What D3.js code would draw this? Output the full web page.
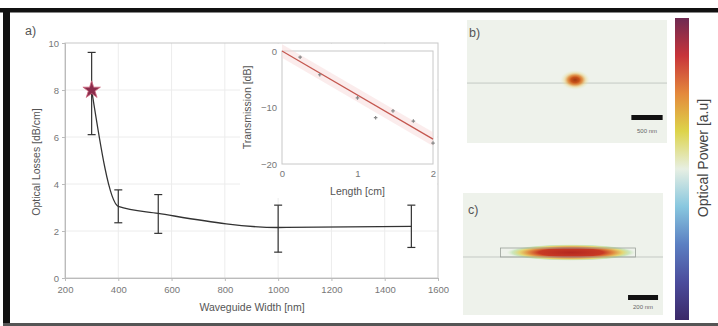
<!DOCTYPE html>
<html>
<head>
<meta charset="utf-8">
<script src="https://cdn.jsdelivr.net/npm/d3@7"></script>
<style>
  html, body { margin: 0; padding: 0; background: #fff; }
  svg { display: block; font-family: "Liberation Sans", Arial, sans-serif; }
</style>
</head>
<body>
<div id="chart"></div>
<script>
// ─── Data ────────────────────────────────────────────────────
const widths   = [300, 400, 550, 1000, 1500];          // nm
const losses   = [8.0, 3.05, 2.75, 2.15, 2.2];         // dB/cm
const errLow   = [6.1, 2.35, 1.9, 1.1, 1.3];
const errHigh  = [9.6, 3.75, 3.55, 3.1, 3.1];
const xTicks   = [200, 400, 600, 800, 1000, 1200, 1400, 1600];
const yTicks   = [0, 2, 4, 6, 8, 10];

const insetLen   = [0.24, 0.5, 1.0, 1.24, 1.47, 1.74, 2.0];   // cm
const insetTrans = [-1.1, -4.2, -8.3, -11.8, -10.6, -12.4, -16.3]; // dB
const fitLen     = [0, 2];
const fitTrans   = [0, -15.6];
const insetXTicks = [0, 1, 2];
const insetYTicks = [0, -10, -20];

// mode profiles (nm, panel coords): [cx, cy, rx, ry]
const modeB = [0, 50, 240, 160];
const modeC = [20, 30, 430, 55];
const wgC   = [-450, 450, 0, 60];      // x0, x1, y0, y1
const colorStops = ["#3b2868", "#4b4c9c", "#5b7fc2", "#88c7df", "#e7efe3",
                    "#ddd44a", "#e4893c", "#c8343a", "#6e2a52"];

// ─── SVG ─────────────────────────────────────────────────────
const W = 718, H = 326;
const svg = d3.select("#chart").append("svg").attr("width", W).attr("height", H);
const defs = svg.append("defs");

// frame
svg.append("rect").attr("x", 0).attr("y", 8).attr("width", W).attr("height", 4.5).attr("fill", "#111");
svg.append("rect").attr("x", 3).attr("y", 8).attr("width", 7).attr("height", H - 8).attr("fill", "#111");
svg.append("rect").attr("x", 3).attr("y", 323).attr("width", W - 3).attr("height", 3).attr("fill", "#555");

const txt = "#555";

// ─── Main chart ──────────────────────────────────────────────
const x = d3.scaleLinear().domain([200, 1600]).range([65, 438]);
const y = d3.scaleLinear().domain([0, 10]).range([278, 43]);
const g = svg.append("g");

// grid
g.selectAll("line.vg").data(xTicks.slice(1, -1)).join("line")
  .attr("x1", d => x(d)).attr("x2", d => x(d)).attr("y1", y(0)).attr("y2", y(10))
  .attr("stroke", "#ececec").attr("stroke-width", 1);
g.selectAll("line.hg").data(yTicks.slice(1, -1)).join("line")
  .attr("x1", x(200)).attr("x2", x(1600)).attr("y1", d => y(d)).attr("y2", d => y(d))
  .attr("stroke", "#ececec").attr("stroke-width", 1);
g.append("rect").attr("x", x(200)).attr("y", y(10))
  .attr("width", x(1600) - x(200)).attr("height", y(0) - y(10))
  .attr("fill", "none").attr("stroke", "#c8c8c8");

// axes
const xAxis = g.append("g").attr("transform", `translate(0,${y(0)})`)
  .call(d3.axisBottom(x).tickValues(xTicks).tickFormat(d3.format("d")).tickSize(3).tickPadding(5));
const yAxis = g.append("g").attr("transform", `translate(${x(200)},0)`)
  .call(d3.axisLeft(y).tickValues(yTicks).tickSize(3).tickPadding(3));
[xAxis, yAxis].forEach(a => {
  a.select(".domain").attr("stroke", "#bbb");
  a.selectAll(".tick line").attr("stroke", "#bbb");
  a.selectAll(".tick text").attr("fill", "#777").style("font-size", "9.5px")
    .style("font-family", "Liberation Sans, Arial, sans-serif");
});

g.append("text").attr("x", 252).attr("y", 311).attr("text-anchor", "middle")
  .attr("fill", txt).style("font-size", "10.5px").text("Waveguide Width [nm]");
g.append("text").attr("transform", `translate(40,162) rotate(-90)`).attr("text-anchor", "middle")
  .attr("fill", txt).style("font-size", "10.5px").text("Optical Losses [dB/cm]");
g.append("text").attr("x", 25).attr("y", 35).attr("fill", txt)
  .style("font-size", "12.5px").text("a)");

// inset background
g.append("rect").attr("x", 240).attr("y", 44).attr("width", 197).attr("height", 154).attr("fill", "#fff");

// line + error bars
const pts = widths.map((w, i) => ({ w, v: losses[i], lo: errLow[i], hi: errHigh[i] }));
g.append("path").datum(pts)
  .attr("d", d3.line().x(d => x(d.w)).y(d => y(d.v)).curve(d3.curveMonotoneX))
  .attr("fill", "none").attr("stroke", "#333").attr("stroke-width", 1.3);
const eb = g.selectAll("g.eb").data(pts).join("g").attr("stroke", "#333").attr("stroke-width", 1.2);
eb.append("line").attr("x1", d => x(d.w)).attr("x2", d => x(d.w))
  .attr("y1", d => y(d.lo)).attr("y2", d => y(d.hi));
eb.append("line").attr("x1", d => x(d.w) - 4).attr("x2", d => x(d.w) + 4)
  .attr("y1", d => y(d.lo)).attr("y2", d => y(d.lo));
eb.append("line").attr("x1", d => x(d.w) - 4).attr("x2", d => x(d.w) + 4)
  .attr("y1", d => y(d.hi)).attr("y2", d => y(d.hi));
g.append("path").attr("d", d3.symbol(d3.symbolStar, 95)())
  .attr("transform", `translate(${x(widths[0])},${y(losses[0])})`)
  .attr("fill", "#8a2c4c").attr("stroke", "#d06a80").attr("stroke-width", 0.8);

// ─── Inset ───────────────────────────────────────────────────
const ix = d3.scaleLinear().domain([0, 2]).range([282, 433]);
const iy = d3.scaleLinear().domain([-20, 0]).range([164, 51]);
const ig = svg.append("g");
ig.append("rect").attr("x", ix(0)).attr("y", iy(0)).attr("width", ix(2) - ix(0))
  .attr("height", iy(-20) - iy(0)).attr("fill", "#fff").attr("stroke", "#c8c8c8");
const fit = fitLen.map((l, i) => ({ l, t: fitTrans[i] }));
ig.append("path").datum(fit)
  .attr("d", d3.area().x(d => ix(d.l)).y0(d => iy(d.t - 1.2)).y1(d => iy(d.t + 1.2)))
  .attr("fill", "#f7d9d9").attr("opacity", 0.5);
ig.append("path").datum(fit)
  .attr("d", d3.line().x(d => ix(d.l)).y(d => iy(d.t)))
  .attr("stroke", "#c4574f").attr("stroke-width", 1.2).attr("fill", "none");
ig.selectAll("path.pt").data(insetLen.map((l, i) => ({ l, t: insetTrans[i] }))).join("path")
  .attr("d", d3.symbol(d3.symbolCross, 7)())
  .attr("transform", d => `translate(${ix(d.l)},${iy(d.t)})`)
  .attr("fill", "#888");
const iX = ig.append("g").attr("transform", `translate(0,${iy(-20)})`)
  .call(d3.axisBottom(ix).tickValues(insetXTicks).tickFormat(d3.format("d")).tickSize(0).tickPadding(6));
const iY = ig.append("g").attr("transform", `translate(${ix(0)},0)`)
  .call(d3.axisLeft(iy).tickValues(insetYTicks).tickSize(0).tickPadding(5));
[iX, iY].forEach(a => {
  a.select(".domain").remove();
  a.selectAll(".tick text").attr("fill", "#777").style("font-size", "9.5px")
    .style("font-family", "Liberation Sans, Arial, sans-serif");
});
ig.append("text").attr("x", ix(1)).attr("y", 195).attr("text-anchor", "middle")
  .attr("fill", txt).style("font-size", "10.5px").text("Length [cm]");
ig.append("text").attr("transform", `translate(251,${(iy(0) + iy(-20)) / 2}) rotate(-90)`)
  .attr("text-anchor", "middle").attr("fill", txt).style("font-size", "10.5px").text("Transmission [dB]");

// ─── Mode panels ─────────────────────────────────────────────
function modeGrad(id, stops) {
  const gr = defs.append("radialGradient").attr("id", id);
  stops.forEach(s => gr.append("stop").attr("offset", s[0]).attr("stop-color", s[1]).attr("stop-opacity", s[2]));
}
modeGrad("gB", [[0, "#a33a10", 1], [0.28, "#c9531a", 1], [0.5, "#e08a35", 0.85],
                [0.72, "#ead488", 0.5], [1, "#e2efd0", 0]]);
modeGrad("gC", [[0, "#b4281f", 1], [0.5, "#c83a25", 1], [0.66, "#e0873a", 0.95],
                [0.8, "#e2cf55", 0.8], [0.91, "#a9dc92", 0.5], [1, "#cfe8c0", 0]]);

// panel b
const bx = d3.scaleLinear().domain([-1730, 1470]).range([467, 667]);
const by = d3.scaleLinear().domain([1010, -960]).range([20, 143]);
const pb = svg.append("g");
pb.append("rect").attr("x", bx(-1730)).attr("y", by(1010)).attr("width", bx(1470) - bx(-1730))
  .attr("height", by(-960) - by(1010)).attr("fill", "#eef2eb");
pb.append("line").attr("x1", bx(-1730)).attr("x2", bx(1470)).attr("y1", by(0)).attr("y2", by(0))
  .attr("stroke", "#c4c9c4").attr("stroke-width", 1);
pb.append("ellipse").attr("cx", bx(modeB[0])).attr("cy", by(modeB[1]))
  .attr("rx", bx(modeB[2]) - bx(0)).attr("ry", by(0) - by(modeB[3])).attr("fill", "url(#gB)");
pb.append("rect").attr("x", bx(900)).attr("y", 115).attr("width", bx(1400) - bx(900)).attr("height", 5).attr("fill", "#111");
pb.append("text").attr("x", bx(1150)).attr("y", 133).attr("text-anchor", "middle")
  .attr("fill", "#666").style("font-size", "6px").text("500 nm");
pb.append("text").attr("x", 469).attr("y", 37).attr("fill", txt).style("font-size", "12.5px").text("b)");

// panel c
const cx = d3.scaleLinear().domain([-700, 633]).range([463, 663]);
const cy = d3.scaleLinear().domain([427, -387]).range([193, 315]);
const pc = svg.append("g");
pc.append("rect").attr("x", cx(-700)).attr("y", cy(427)).attr("width", cx(633) - cx(-700))
  .attr("height", cy(-387) - cy(427)).attr("fill", "#eef2eb");
pc.append("line").attr("x1", cx(-700)).attr("x2", cx(633)).attr("y1", cy(0)).attr("y2", cy(0))
  .attr("stroke", "#c4c9c4").attr("stroke-width", 1);
pc.append("ellipse").attr("cx", cx(modeC[0])).attr("cy", cy(modeC[1]))
  .attr("rx", cx(modeC[2]) - cx(0)).attr("ry", cy(0) - cy(modeC[3])).attr("fill", "url(#gC)");
pc.append("rect").attr("x", cx(wgC[0])).attr("y", cy(wgC[3])).attr("width", cx(wgC[1]) - cx(wgC[0]))
  .attr("height", cy(wgC[2]) - cy(wgC[3])).attr("fill", "none").attr("stroke", "#9aa09a").attr("stroke-width", 0.8);
pc.append("rect").attr("x", cx(400)).attr("y", 295).attr("width", cx(600) - cx(400)).attr("height", 5).attr("fill", "#111");
pc.append("text").attr("x", cx(500)).attr("y", 309).attr("text-anchor", "middle")
  .attr("fill", "#666").style("font-size", "6px").text("200 nm");
pc.append("text").attr("x", 468).attr("y", 214).attr("fill", txt).style("font-size", "12.5px").text("c)");

// ─── Colorbar ────────────────────────────────────────────────
const cb = defs.append("linearGradient").attr("id", "cbar")
  .attr("x1", 0).attr("y1", 1).attr("x2", 0).attr("y2", 0);
const stopPos = d3.scaleLinear().domain([0, colorStops.length - 1]).range([0, 1]);
colorStops.forEach((c, i) => cb.append("stop").attr("offset", stopPos(i)).attr("stop-color", c));
svg.append("rect").attr("x", 675).attr("y", 18).attr("width", 14).attr("height", 302).attr("fill", "url(#cbar)");
svg.append("text").attr("transform", "translate(708,158) rotate(-90)").attr("text-anchor", "middle")
  .attr("fill", "#444").style("font-size", "14px").text("Optical Power [a.u]");
</script>
</body>
</html>
